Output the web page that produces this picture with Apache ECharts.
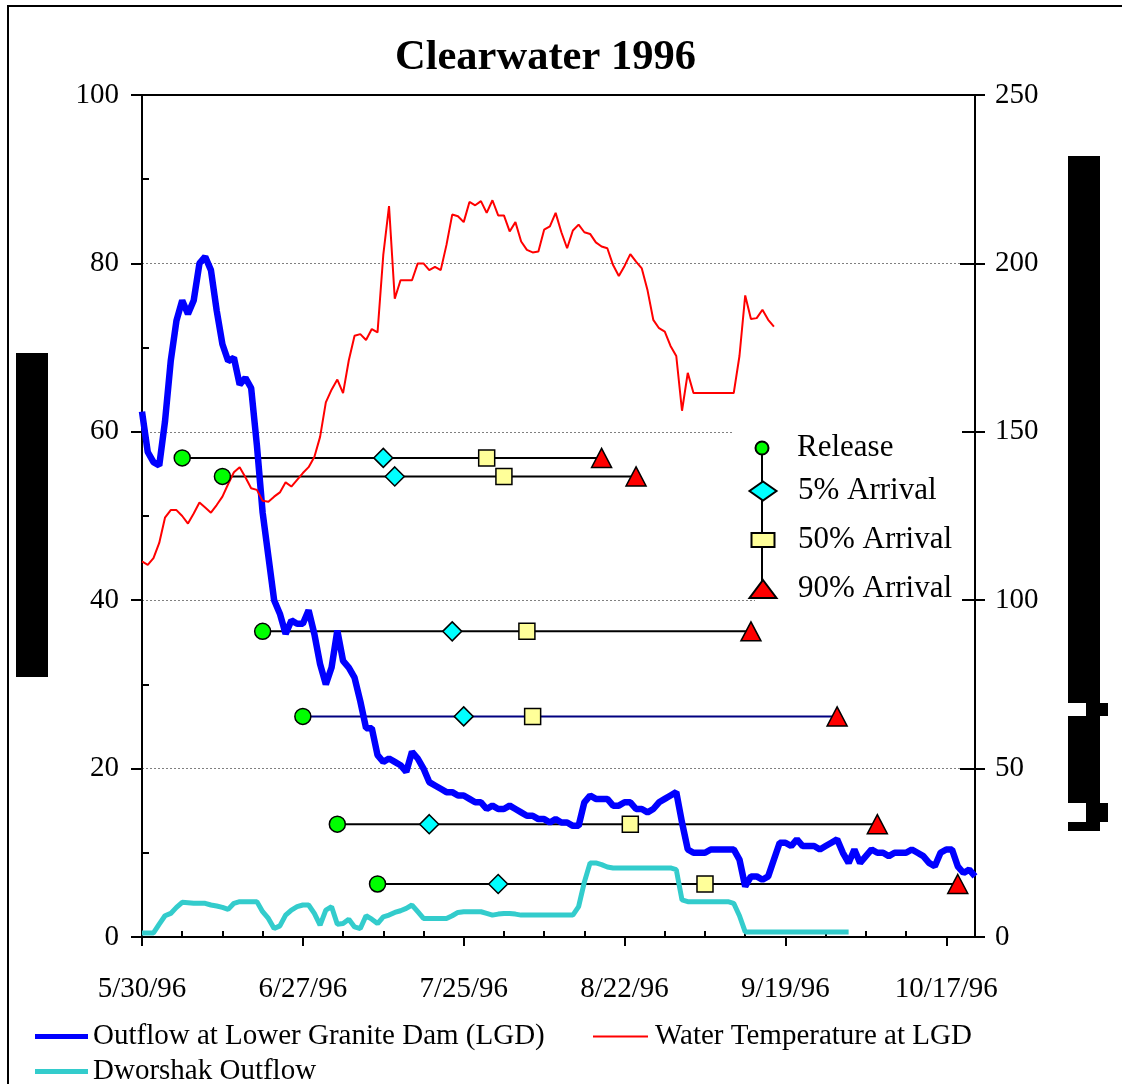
<!DOCTYPE html>
<html>
<head>
<meta charset="utf-8">
<title>Clearwater 1996</title>
<script src="https://cdn.jsdelivr.net/npm/echarts@6/dist/echarts.min.js"></script>
<style>
  html, body { margin: 0; padding: 0; background: #fff; }
  #chart { width: 1122px; height: 1084px; }
</style>
</head>
<body>
<div id="chart"></div>
<script>
// Season runs from 5/30/96; daily series start on that date.
const seasonStart = [1996, 4, 30];

// Outflow at Lower Granite Dam, kcfs, daily from 5/30/96
const lgdOutflow = [
  156, 144, 141, 140, 153, 171, 183, 189, 185, 189,
  200, 202, 198, 186, 176, 171, 172, 164, 166, 163,
  146, 126, 113, 100, 96, 90, 94, 93, 93, 97,
  90, 81, 75, 80, 91, 82, 80, 77, 70, 62,
  62, 54, 52, 53, 52, 51, 49, 55, 53, 50,
  46, 45, 44, 43, 43, 42, 42, 41, 40, 40,
  38, 39, 38, 38, 39, 38, 37, 36, 36, 35,
  35, 34, 35, 34, 34, 33, 33, 40, 42, 41,
  41, 41, 39, 39, 40, 40, 38, 38, 37, 38,
  40, 41, 42, 43, 34, 26, 25, 25, 25, 26,
  26, 26, 26, 26, 23, 15, 18, 18, 17, 18,
  23, 28, 28, 27, 29, 27, 27, 27, 26, 27,
  28, 29, 25, 22, 26, 22, 24, 26, 25, 25,
  24, 25, 25, 25, 26, 25, 24, 22, 21, 25,
  26, 26, 21, 19, 20, 18
];

// Water temperature at Lower Granite Dam, daily from 5/30/96
const lgdTemperature = [
  44.6, 44.2, 45.0, 46.8, 49.8, 50.7, 50.7, 50.0, 49.1, 50.3,
  51.6, 51.0, 50.4, 51.3, 52.3, 53.8, 55.2, 55.8, 54.6, 53.3,
  53.1, 51.8, 51.7, 52.3, 52.8, 54.0, 53.5, 54.3, 55.1, 55.8,
  57.0, 59.4, 63.5, 65.0, 66.2, 64.6, 68.5, 71.4, 71.6, 70.9,
  72.2, 71.8, 81.0, 86.8, 75.8, 78.0, 78.0, 78.0, 80.0, 80.0,
  79.2, 79.6, 79.2, 82.2, 85.8, 85.6, 84.9, 87.3, 86.9, 87.4,
  86.0, 87.5, 85.7, 85.7, 83.8, 84.9, 82.6, 81.6, 81.3, 81.4,
  84.0, 84.4, 86.0, 83.7, 81.8, 83.9, 84.6, 83.7, 83.5, 82.5,
  82.0, 81.8, 79.8, 78.5, 79.7, 81.1, 80.2, 79.4, 76.8, 73.3,
  72.3, 71.9, 70.2, 69.0, 62.5, 67.0, 64.6, 64.6, 64.6, 64.6,
  64.6, 64.6, 64.6, 64.6, 69.0, 76.2, 73.4, 73.5, 74.5, 73.3,
  72.5
];

// Dworshak Dam outflow, kcfs, daily from 5/30/96
const dworshakOutflow = [
  1.2, 1.2, 1.2, 3.8, 6.3, 7.0, 8.8, 10.3, 10.2, 10.0,
  10.0, 10.0, 9.5, 9.2, 8.8, 8.2, 10.0, 10.5, 10.5, 10.5,
  10.5, 7.5, 5.5, 2.5, 3.3, 6.5, 8.0, 9.0, 9.5, 9.5,
  7.0, 3.5, 8.0, 9.0, 3.8, 4.0, 5.3, 3.0, 2.5, 6.3,
  5.3, 4.0, 6.0, 6.5, 7.3, 7.8, 8.5, 9.5, 7.5, 5.5,
  5.5, 5.5, 5.5, 5.5, 6.3, 7.3, 7.5, 7.5, 7.5, 7.5,
  7.0, 6.5, 6.8, 7.0, 7.0, 6.8, 6.5, 6.5, 6.5, 6.5,
  6.5, 6.5, 6.5, 6.5, 6.5, 6.5, 9.0, 16.3, 22.0, 22.0,
  21.5, 20.8, 20.5, 20.5, 20.5, 20.5, 20.5, 20.5, 20.5, 20.5,
  20.5, 20.5, 20.5, 20.0, 11.0, 10.5, 10.5, 10.5, 10.5, 10.5,
  10.5, 10.5, 10.5, 10.0, 6.3, 1.5, 1.5, 1.5, 1.5, 1.5,
  1.5, 1.5, 1.5, 1.5, 1.5, 1.5, 1.5, 1.5, 1.5, 1.5,
  1.5, 1.5, 1.5, 1.5
];

// Release groups: release date and 5%, 50%, 90% arrival dates (M/D, 1996)
const releaseDates = ['6/6', '6/13', '6/20', '6/27', '7/3', '7/10'];
const arrival5 = ['7/11', '7/13', '7/23', '7/25', '7/19', '7/31'];
const arrival50 = ['7/29', '8/1', '8/5', '8/6', '8/23', '9/5'];
const arrival90 = ['8/18', '8/24', '9/13', '9/28', '10/5', '10/19'];
// Height at which each release group is plotted (left axis)
const groupLevels = [56.9, 54.7, 36.3, 26.2, 13.4, 6.3];

// Axis labels
const xTickLabels = ['5/30/96', '6/27/96', '7/25/96', '8/22/96', '9/19/96', '10/17/96'];
const xAxisEnd = '10/22/96';
const leftTicks = [0, 20, 40, 60, 80, 100];
const rightTicks = [0, 50, 100, 150, 200, 250];

const markerNames = ['Release', '5% Arrival', '50% Arrival', '90% Arrival'];
const lineNames = ['Outflow at Lower Granite Dam (LGD)', 'Water Temperature at LGD', 'Dworshak Outflow'];

// ---- helpers ----
const DAY = 86400000;
const startMs = Date.UTC(seasonStart[0], seasonStart[1], seasonStart[2]);
function dayOf(md) {
  const p = md.split('/').map(Number);
  const yr = p.length > 2 ? 1900 + p[2] : 1996;
  return Math.round((Date.UTC(yr, p[0] - 1, p[1]) - startMs) / DAY);
}
function dayLabel(d) {
  const dt = new Date(startMs + d * DAY);
  return (dt.getUTCMonth() + 1) + '/' + dt.getUTCDate() + '/96';
}
const majorDays = xTickLabels.map(dayOf);
const xMax = dayOf(xAxisEnd);
const minorDays = [];
for (let d = 7; d < xMax; d += 7) if (majorDays.indexOf(d) < 0) minorDays.push(d);

const FONT = "'Liberation Serif', 'Times New Roman', serif";
const BLACK = '#000000';
const BLUE = '#0000FF';
const RED = '#FF0000';
const TEAL = '#33CCCC';

const releaseDays = releaseDates.map(dayOf);
const a5Days = arrival5.map(dayOf);
const a50Days = arrival50.map(dayOf);
const a90Days = arrival90.map(dayOf);

// horizontal span of each group, release to 90% arrival
const groupSeries = groupLevels.map((lvl, i) => ({
  type: 'line',
  xAxisIndex: 0,
  yAxisIndex: 0,
  data: [[releaseDays[i], lvl], [a90Days[i], lvl]],
  symbol: 'none',
  silent: true,
  lineStyle: { color: i === 3 ? '#000080' : BLACK, width: 2 },
  z: 2
}));

const markerStyles = [
  { days: releaseDays, symbol: 'circle', size: 16, color: '#00FF00' },
  { days: a5Days, symbol: 'diamond', size: [19, 19], color: '#00FFFF' },
  { days: a50Days, symbol: 'rect', size: 16, color: '#FFFF99' },
  { days: a90Days, symbol: 'triangle', size: [20, 19], color: RED }
];
const markerSeries = markerStyles.map((m, k) => ({
  name: markerNames[k],
  type: 'scatter',
  xAxisIndex: 0,
  yAxisIndex: 0,
  data: m.days.map((d, i) => [d, groupLevels[i]]),
  symbol: m.symbol,
  symbolSize: m.size,
  itemStyle: { color: m.color, borderColor: BLACK, borderWidth: 1.5, opacity: 1 },
  z: 6
}));

const lineSeries = [
  {
    name: lineNames[0], type: 'line', xAxisIndex: 0, yAxisIndex: 1,
    data: lgdOutflow.map((v, i) => [i, v]),
    symbol: 'none', showSymbol: false,
    lineStyle: { color: BLUE, width: 6.5 }, itemStyle: { color: BLUE }, z: 3
  },
  {
    name: lineNames[1], type: 'line', xAxisIndex: 0, yAxisIndex: 0,
    data: lgdTemperature.map((v, i) => [i, v]),
    symbol: 'none', showSymbol: false,
    lineStyle: { color: RED, width: 2 }, itemStyle: { color: RED }, z: 4
  },
  {
    name: lineNames[2], type: 'line', xAxisIndex: 0, yAxisIndex: 1,
    data: dworshakOutflow.map((v, i) => [i, v]),
    symbol: 'none', showSymbol: false,
    lineStyle: { color: TEAL, width: 5 }, itemStyle: { color: TEAL }, z: 3
  }
];

// marker legend: one small legend per symbol, stacked in a column
const markerLegendRows = [
  { cy: 448, w: 15, h: 13 },
  { cy: 491, w: 27, h: 19 },
  { cy: 540, w: 23, h: 14 },
  { cy: 589, w: 27, h: 18 }
];
const iconX = 762;
const textX = 797;
const markerFont = 31;
const markerLegends = markerNames.map((name, k) => {
  const r = markerLegendRows[k];
  return {
    data: [name],
    orient: 'vertical',
    left: iconX - r.w / 2,
    top: r.cy - markerFont / 2,
    padding: 0,
    itemWidth: r.w,
    itemHeight: r.h,
    selectedMode: false,
    textStyle: {
      fontFamily: FONT, fontSize: markerFont, color: BLACK,
      padding: [0, 0, 0, textX - (iconX - r.w / 2 + r.w + 5)]
    },
    z: 8
  };
});

// line legends below the plot: a flat bar the thickness of each line
const lineLegendText = { fontFamily: FONT, fontSize: 29, color: BLACK };
const lineLegendRows = [
  { left: 35, top: 1022, w: 53, h: 5, color: BLUE, textLeft: 0 },
  { left: 593, top: 1022, w: 55, h: 2, color: RED, textLeft: 2 },
  { left: 35, top: 1057, w: 53, h: 5, color: TEAL, textLeft: 0 }
];
const lineLegends = lineNames.map((name, k) => {
  const r = lineLegendRows[k];
  return {
    data: [{ name: name, icon: 'rect', itemStyle: { color: r.color, borderWidth: 0 } }],
    orient: 'horizontal',
    left: r.left,
    top: r.top,
    padding: 0,
    itemWidth: r.w,
    itemHeight: r.h,
    selectedMode: false,
    textStyle: Object.assign({ padding: [0, 0, 0, r.textLeft] }, lineLegendText)
  };
});

const axisText = { fontFamily: FONT, fontSize: 29, color: BLACK };
const blackLine = { color: BLACK, width: 2 };

const option = {
  animation: false,
  backgroundColor: '#ffffff',
  title: {
    text: 'Clearwater 1996',
    left: 395,
    top: 37,
    padding: 0,
    textStyle: { fontFamily: FONT, fontSize: 42.5, fontWeight: 'bold', color: BLACK }
  },
  grid: {
    left: 142, right: 147, top: 95, bottom: 147, z: 1,
    show: true, borderColor: BLACK, borderWidth: 2, backgroundColor: 'transparent'
  },
  xAxis: [
    {
      type: 'value', min: 0, max: xMax, position: 'bottom',
      axisLine: { onZero: false, lineStyle: blackLine },
      axisTick: { customValues: majorDays, length: 9, lineStyle: blackLine },
      axisLabel: {
        customValues: majorDays, formatter: dayLabel, margin: 38, ...axisText
      },
      splitLine: { show: false }
    },
    {
      type: 'value', min: 0, max: xMax, position: 'bottom',
      axisLine: { show: false, onZero: false },
      axisTick: { customValues: minorDays, inside: true, length: 6, lineStyle: blackLine },
      axisLabel: { show: false },
      splitLine: { show: false }
    }
  ],
  yAxis: [
    {
      type: 'value', min: leftTicks[0], max: leftTicks[leftTicks.length - 1],
      interval: leftTicks[1] - leftTicks[0], position: 'left',
      axisLine: { show: true, onZero: false, lineStyle: blackLine },
      axisTick: { show: true, length: 11, lineStyle: blackLine },
      axisLabel: { margin: 23, ...axisText },
      splitLine: { show: true, lineStyle: { color: '#808080', width: 1, type: [2, 2] } }
    },
    {
      type: 'value', min: rightTicks[0], max: rightTicks[rightTicks.length - 1],
      interval: rightTicks[1] - rightTicks[0], position: 'right',
      axisLine: { show: true, onZero: false, lineStyle: blackLine },
      axisTick: { show: true, length: 10, lineStyle: blackLine },
      axisLabel: { margin: 20, ...axisText },
      splitLine: { show: false }
    },
    {
      type: 'value', min: leftTicks[0], max: leftTicks[leftTicks.length - 1], position: 'left',
      axisLine: { show: false, onZero: false },
      axisTick: { show: true, inside: true, length: 7, customValues: [10, 30, 50, 70, 90], lineStyle: blackLine },
      axisLabel: { show: false },
      splitLine: { show: false }
    },
    {
      type: 'value', min: rightTicks[0], max: rightTicks[rightTicks.length - 1], position: 'right',
      axisLine: { show: false, onZero: false },
      axisTick: { show: true, inside: true, length: 15, customValues: [50, 100, 150, 200], lineStyle: blackLine },
      axisLabel: { show: false },
      splitLine: { show: false }
    }
  ],
  legend: markerLegends.concat(lineLegends),
  graphic: [
    // outer frame
    { type: 'rect', shape: { x: 8, y: 6, width: 1140, height: 1110 }, style: { fill: 'none', stroke: BLACK, lineWidth: 2 }, z: 20, silent: true },
    // top edge of the plot area, over the 100 gridline
    { type: 'line', shape: { x1: 142, y1: 95, x2: 975, y2: 95 }, style: { stroke: BLACK, lineWidth: 2 }, z: 2, silent: true },
    // legend backdrop inside the plot
    { type: 'rect', shape: { x: 733, y: 426, width: 229, height: 172 }, style: { fill: '#ffffff' }, z: 1, silent: true },
    { type: 'rect', shape: { x: 755, y: 598, width: 207, height: 8 }, style: { fill: '#ffffff' }, z: 1, silent: true },
    // connector through the marker legend symbols
    { type: 'line', shape: { x1: iconX, y1: 448, x2: iconX, y2: 589 }, style: { stroke: BLACK, lineWidth: 2 }, z: 7, silent: true },
    // blacked-out axis titles
    { type: 'rect', shape: { x: 16, y: 353, width: 32, height: 324 }, style: { fill: BLACK }, z: 20, silent: true },
    { type: 'rect', shape: { x: 1068, y: 156, width: 32, height: 547 }, style: { fill: BLACK }, z: 20, silent: true },
    { type: 'rect', shape: { x: 1086, y: 703, width: 22, height: 13 }, style: { fill: BLACK }, z: 20, silent: true },
    { type: 'rect', shape: { x: 1068, y: 716, width: 32, height: 87 }, style: { fill: BLACK }, z: 20, silent: true },
    { type: 'rect', shape: { x: 1086, y: 803, width: 22, height: 19 }, style: { fill: BLACK }, z: 20, silent: true },
    { type: 'rect', shape: { x: 1068, y: 822, width: 32, height: 9 }, style: { fill: BLACK }, z: 20, silent: true }
  ],
  series: groupSeries.concat(lineSeries, markerSeries)
};

const chart = echarts.init(document.getElementById('chart'), null, { renderer: 'canvas' });
chart.setOption(option);
</script>
</body>
</html>
